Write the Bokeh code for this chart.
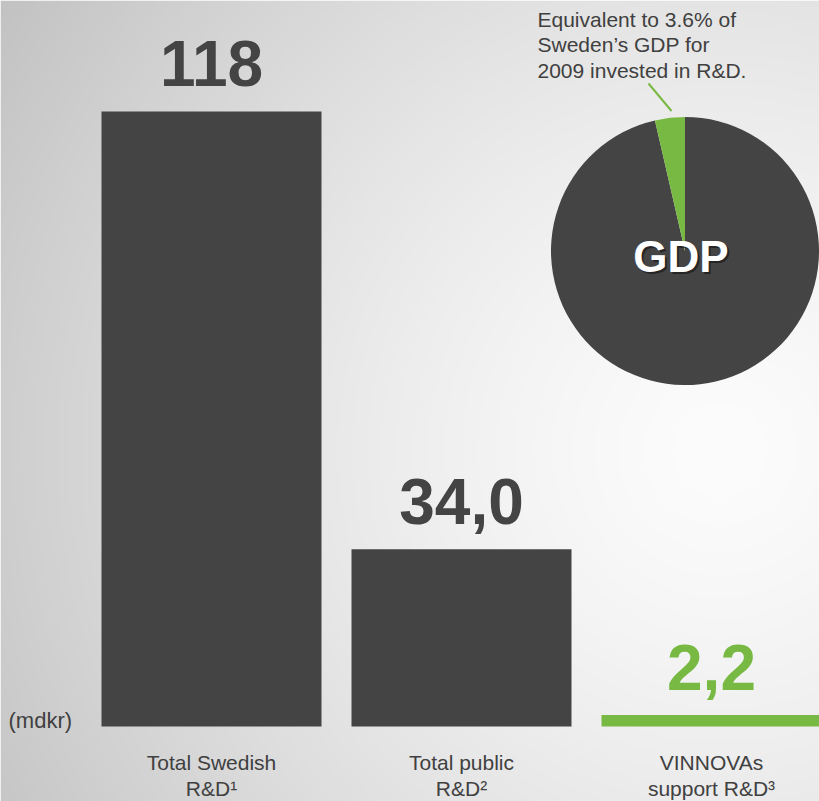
import numpy as np
from bokeh.plotting import figure
from bokeh.models import Range1d, Label
from bokeh.core.properties import value
from bokeh.embed import file_html
from bokeh.resources import INLINE

# ---- data ----
categories_line1 = ["Total Swedish", "Total public", "VINNOVAs"]
categories_line2 = ["R&D\u00b9", "R&D\u00b2", "support R&D\u00b3"]
values = [118.0, 34.0, 2.2]
value_labels = ["118", "34,0", "2,2"]
bar_colors = ["#444444", "#444444", "#78b944"]
gdp_share_pct = 3.6
annotation_lines = ["Equivalent to 3.6% of", "Sweden\u2019s GDP for", "2009 invested in R&D."]
unit_label = "(mdkr)"

# ---- layout ----
W, H = 819, 801
PX_X = 250.0            # screen px per category step
PX_Y = 615.0 / 118.0    # screen px per mdkr
X0_PX, BASE_PX = 211, 726   # screen px of category 0 / value 0 inside the frame

x_start = -X0_PX / PX_X
x_end = (W - X0_PX) / PX_X
y_end = BASE_PX / PX_Y
y_start = -(H - BASE_PX) / PX_Y

FONT = value("Liberation Sans")
DARK = "#404040"
GREEN = "#78b944"

p = figure(width=W, height=H, output_backend="svg", toolbar_location=None,
           x_range=Range1d(x_start, x_end), y_range=Range1d(y_start, y_end),
           min_border=0, border_fill_color=None)
p.axis.visible = False
p.grid.visible = False
p.outline_line_color = None

# ---- radial gradient background ----
gh, gw = 267, 273
ys_px = (np.arange(gh)[::-1] + 0.5) * H / gh   # row 0 = bottom
xs_px = (np.arange(gw) + 0.5) * W / gw
XX, YY = np.meshgrid(xs_px, ys_px)
d = np.hypot(XX - 720, YY - 450)
v = np.clip(252 - 58 * (d / 850.0) ** 1.4, 185, 252).astype(np.uint32)
img = (255 << 24) | (v << 16) | (v << 8) | v
p.image_rgba(image=[img.astype(np.uint32)], x=x_start, y=y_start,
             dw=x_end - x_start, dh=y_end - y_start)

# ---- bars ----
xs = list(range(len(values)))
p.vbar(x=xs, top=values, bottom=0, width=220 / PX_X, fill_color=bar_colors,
       line_color=None)

# value labels
p.text(x=xs, y=values, text=value_labels, text_font=FONT, text_font_style="bold",
       text_font_size="64px", text_color=bar_colors, text_align="center",
       text_baseline="middle", y_offset=-48)

# category labels
p.text(x=xs, y=[0] * 3, text=categories_line1, text_font=FONT, text_font_size="21px",
       text_color=DARK, text_align="center", text_baseline="middle", y_offset=36)
p.text(x=xs, y=[0] * 3, text=categories_line2, text_font=FONT, text_font_size="21px",
       text_color=DARK, text_align="center", text_baseline="middle", y_offset=62)

# unit label
p.add_layout(Label(x=8, y=H - 720, x_units="screen", y_units="screen",
                   text=unit_label, text_font="Liberation Sans", text_font_size="22px",
                   text_color=DARK, text_baseline="middle", text_align="left"))

# ---- GDP pie ----
cx = (684.5 - X0_PX) / PX_X
cy = (BASE_PX - 250.5) / PX_Y
R = 134
frac = gdp_share_pct / 100.0
a0 = np.pi / 2
a1 = a0 + 2 * np.pi * frac
p.wedge(x=[cx, cx], y=[cy, cy], radius=R, radius_units="screen",
        start_angle=[a1, a0], end_angle=[a0 + 2 * np.pi, a1],
        fill_color=["#444444", GREEN], line_color=None)

# leader line (screen offsets from the pie centre)
lx0, ly0, lx1, ly1 = -13.5, -140, -36.5, -167.5
p.segment(x0=[cx + lx0 / PX_X], y0=[cy - ly0 / PX_Y], x1=[cx + lx1 / PX_X],
          y1=[cy - ly1 / PX_Y], line_color=GREEN, line_width=2)

# GDP label with shadow
p.text(x=[cx], y=[cy], text=["GDP"], text_font=FONT, text_font_style="bold",
       text_font_size="44px", text_color="#111111", text_alpha=0.6,
       text_align="center", text_baseline="middle", x_offset=-2, y_offset=7)
p.text(x=[cx], y=[cy], text=["GDP"], text_font=FONT, text_font_style="bold",
       text_font_size="44px", text_color="white",
       text_align="center", text_baseline="middle", x_offset=-4, y_offset=5)

# annotation
for i, line in enumerate(annotation_lines):
    p.add_layout(Label(x=537, y=H - [18.5, 44, 69.5][i], x_units="screen",
                       y_units="screen", text=line, text_font="Liberation Sans",
                       text_font_size="21px", text_color=DARK,
                       text_baseline="middle", text_align="left"))

open("out.html", "w").write(file_html(p, INLINE))
